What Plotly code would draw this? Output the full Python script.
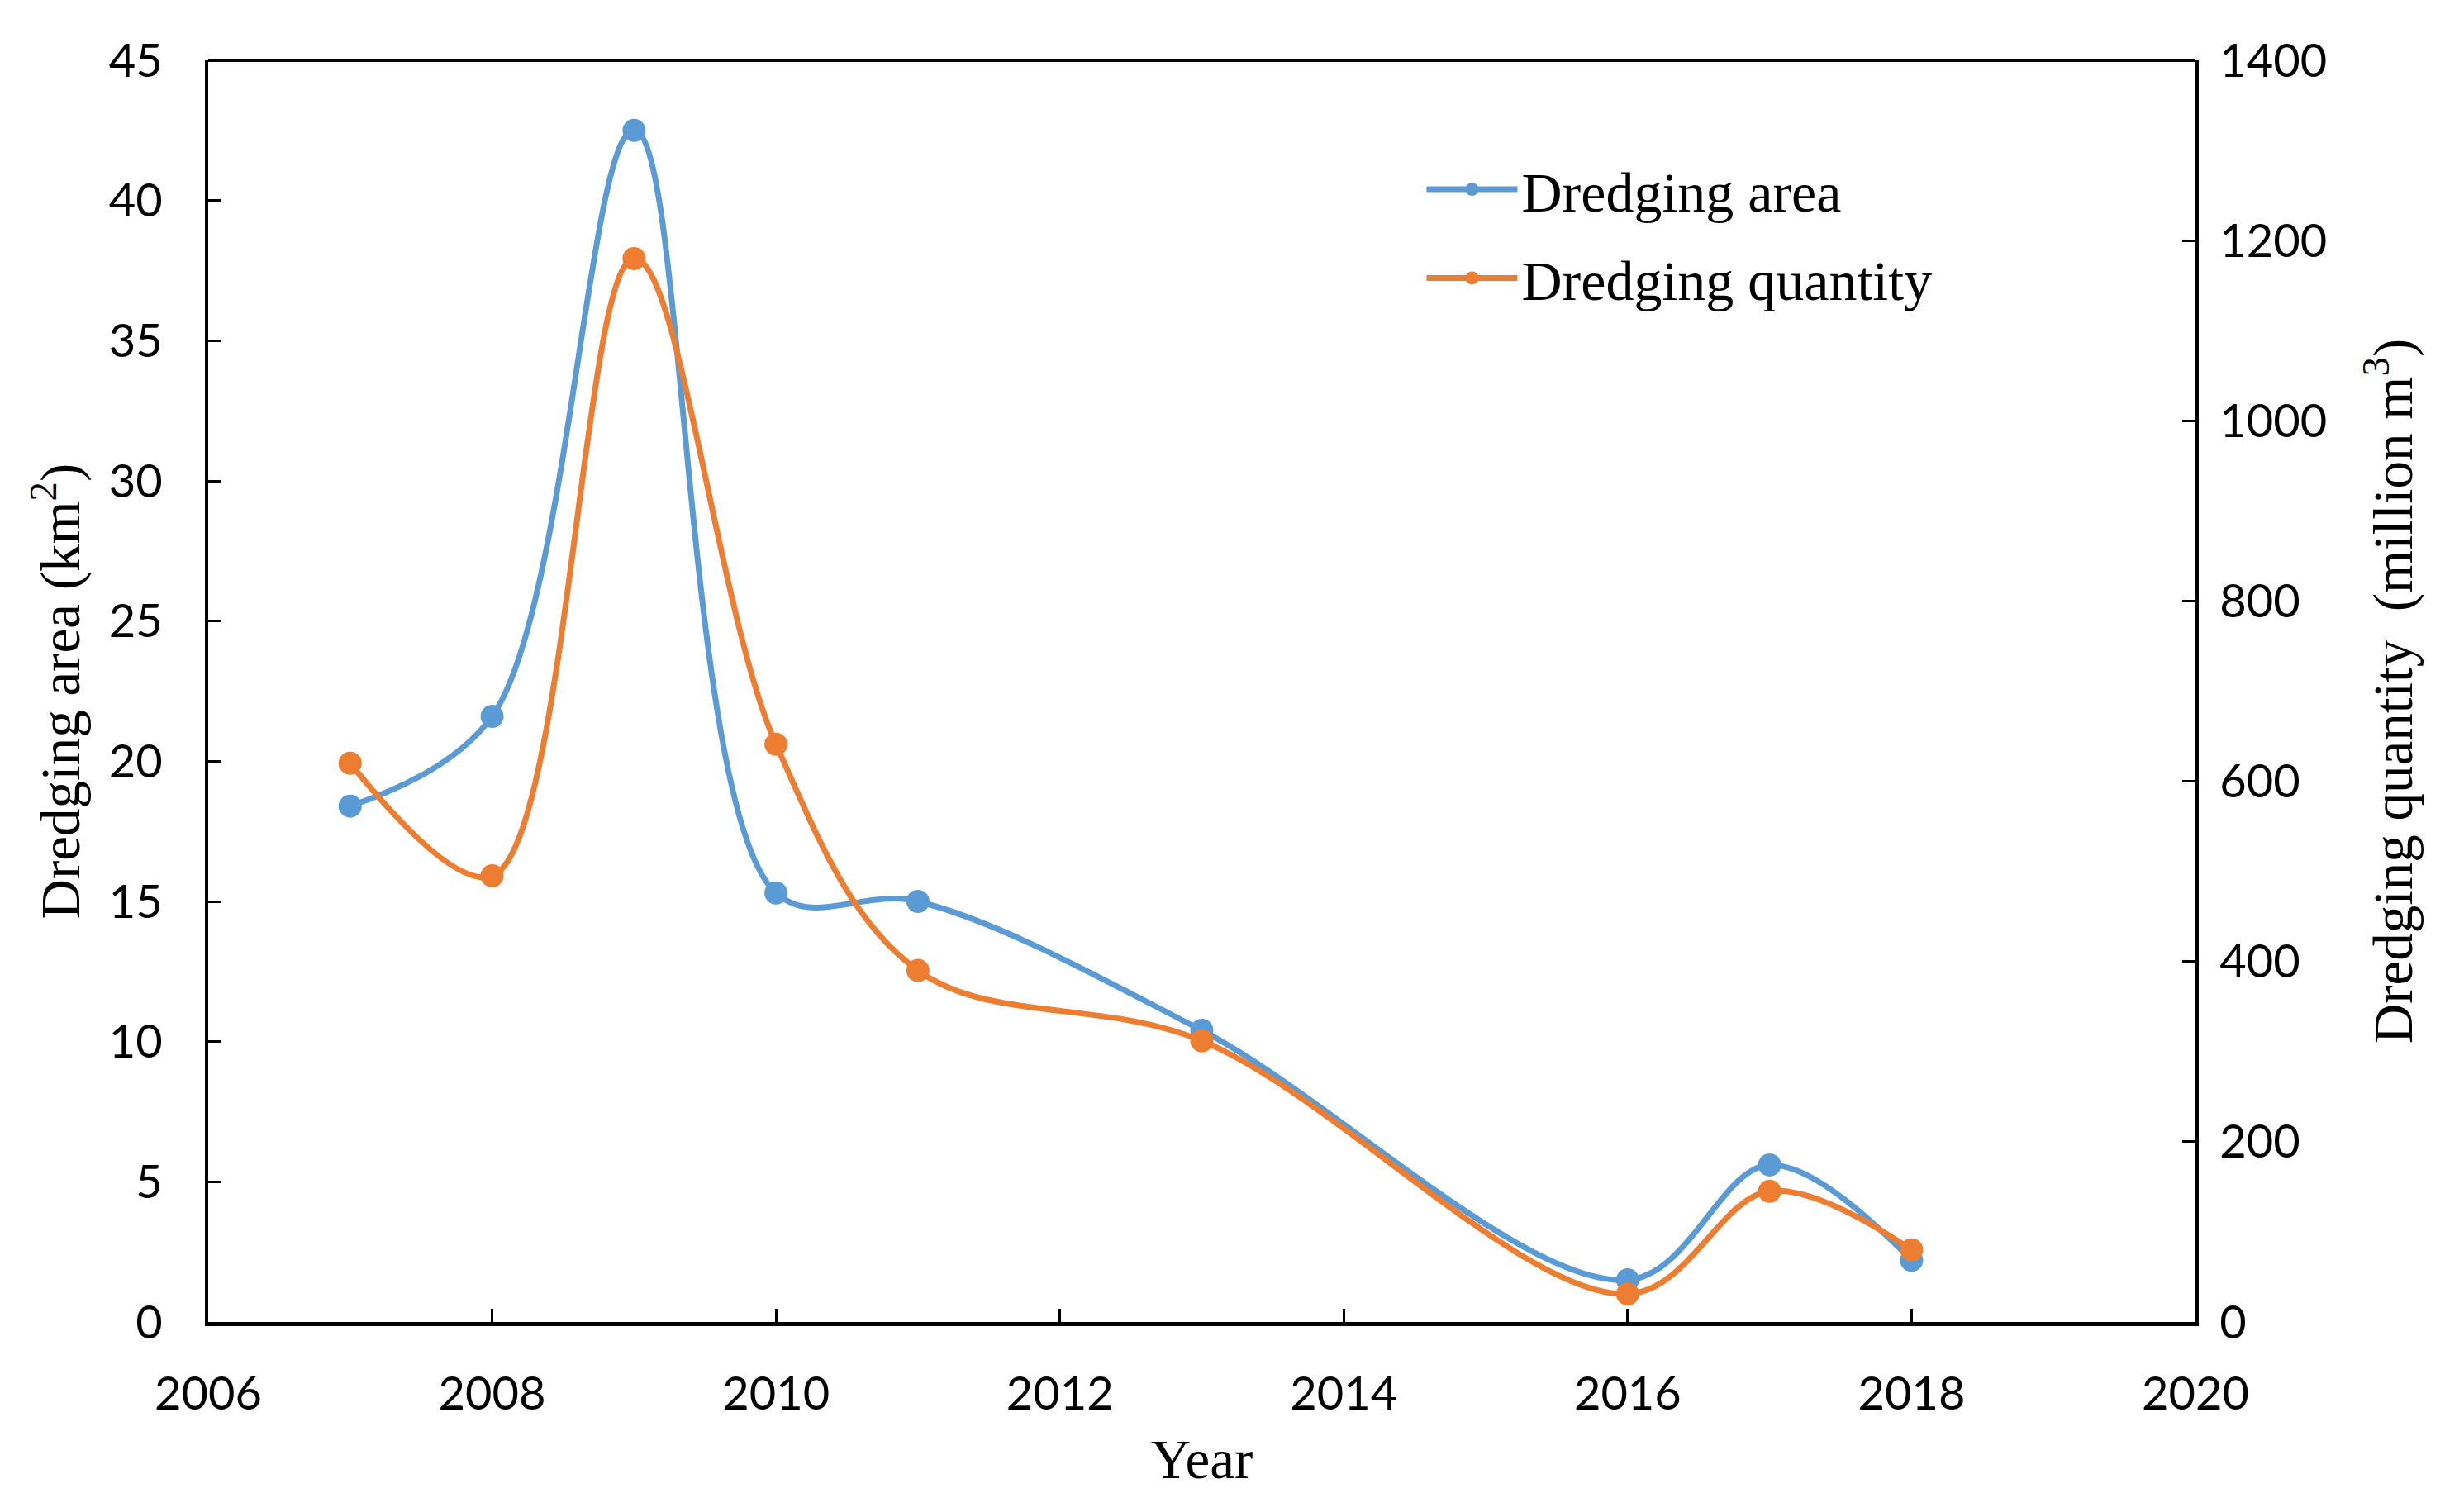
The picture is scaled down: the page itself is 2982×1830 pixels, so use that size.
import plotly.graph_objects as go

years = [2007, 2008, 2009, 2010, 2011, 2013, 2016, 2017, 2018]
dredging_area = [18.4, 21.6, 42.5, 15.3, 15.0, 10.4, 1.5, 5.6, 2.2]
dredging_quantity = [620, 495, 1180, 641, 390, 312, 31, 145, 80]

x_ticks = [2006, 2008, 2010, 2012, 2014, 2016, 2018, 2020]
left_ticks = [0, 5, 10, 15, 20, 25, 30, 35, 40, 45]
right_ticks = [0, 200, 400, 600, 800, 1000, 1200, 1400]

BLUE = "#5B9BD5"
ORANGE = "#ED7D31"
TICKFONT = dict(family="Lato, Open Sans, sans-serif", size=56, color="#000")
SERIF = "Liberation Serif, Times New Roman, serif"
TITLE_SIZE = 67

fig = go.Figure()
fig.add_trace(go.Scatter(
    x=years, y=dredging_area, name="Dredging area", mode="lines+markers",
    line=dict(color=BLUE, width=7, shape="spline", smoothing=1.0),
    marker=dict(color=BLUE, size=28), legendgroup="a", yaxis="y"))
fig.add_trace(go.Scatter(
    x=years, y=dredging_quantity, name="Dredging quantity", mode="lines+markers",
    line=dict(color=ORANGE, width=7, shape="spline", smoothing=1.0),
    marker=dict(color=ORANGE, size=28), legendgroup="b", yaxis="y2"))

fig.update_layout(
    width=2982, height=1830,
    margin=dict(l=244, r=333, t=65, b=238),
    paper_bgcolor="white", plot_bgcolor="white",
    showlegend=True,
    legend=dict(x=0.611, y=0.931, xanchor="left", yanchor="top",
                font=dict(family=SERIF, size=68, color="#000"),
                bgcolor="rgba(0,0,0,0)", tracegroupgap=16, itemwidth=110),
    xaxis=dict(range=[2006, 2020], tickvals=x_ticks, ticks="inside", ticklen=16,
               tickwidth=3, tickcolor="#000", showline=True, linecolor="#000",
               linewidth=5, mirror=False, showgrid=False, zeroline=False,
               tickfont=TICKFONT, ticklabelstandoff=34,
               title=dict(text="Year", font=dict(family=SERIF, size=TITLE_SIZE, color="#000"),
                          standoff=26)),
    yaxis=dict(range=[0, 45], tickvals=left_ticks, ticks="inside", ticklen=16,
               tickwidth=3, tickcolor="#000", showline=True, linecolor="#000",
               linewidth=4, showgrid=False, zeroline=False, tickfont=TICKFONT,
               ticklabelstandoff=40,
               title=dict(text="Dredging area (km<sup>2</sup>)",
                          font=dict(family=SERIF, size=TITLE_SIZE, color="#000"), standoff=14)),
    yaxis2=dict(range=[0, 1400], tickvals=right_ticks, overlaying="y", side="right",
                ticks="inside", ticklen=16, tickwidth=3, tickcolor="#000",
                showline=True, linecolor="#000", linewidth=4, showgrid=False,
                zeroline=False, tickfont=TICKFONT, ticklabelstandoff=14,
                title=dict(text="Dredging quantity\u00a0\u00a0(million m<sup>3</sup>)",
                           font=dict(family=SERIF, size=TITLE_SIZE, color="#000"), standoff=58)),
    shapes=[dict(type="line", xref="paper", yref="paper", x0=0, x1=1, y0=1, y1=1,
                 line=dict(color="#000", width=4))],
)

fig.write_html("out.html")
